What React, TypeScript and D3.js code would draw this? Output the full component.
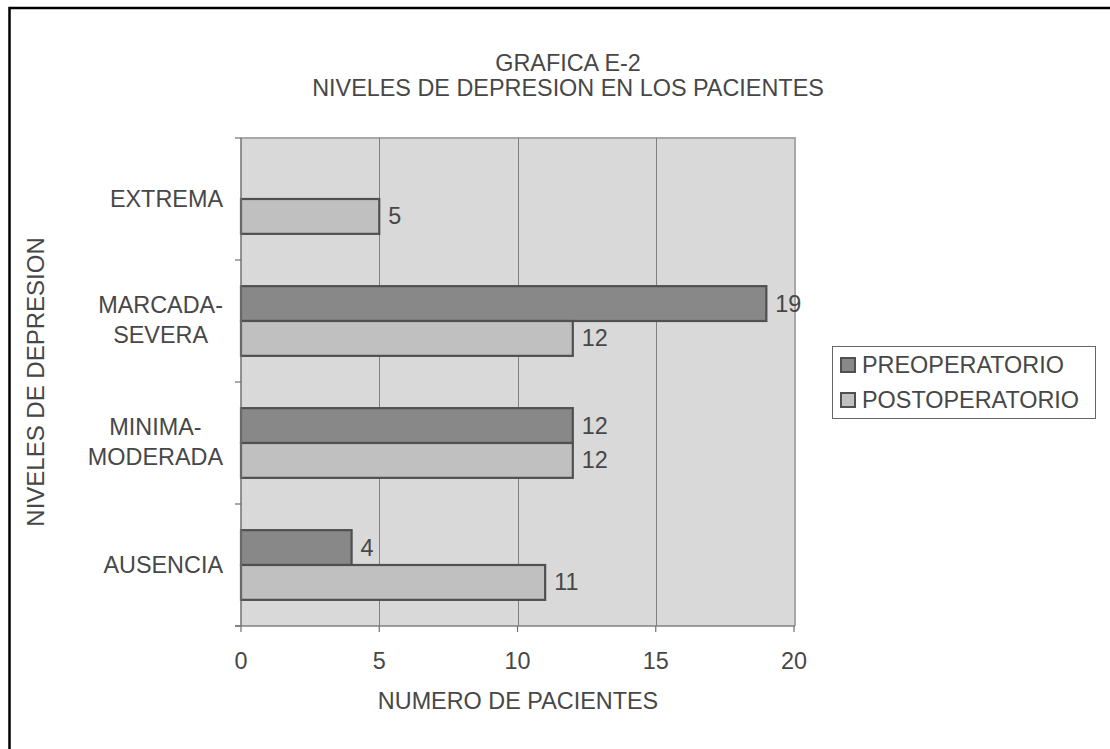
import React, { useEffect, useRef } from "react";
import * as d3 from "d3";

// Depression levels, listed top to bottom
const categories: string[][] = [
  ["EXTREMA"],
  ["MARCADA-", "SEVERA"],
  ["MINIMA-", "MODERADA"],
  ["AUSENCIA"],
];
const categoryKeys = ["EXTREMA", "MARCADA-SEVERA", "MINIMA-MODERADA", "AUSENCIA"];

const seriesNames = ["PREOPERATORIO", "POSTOPERATORIO"];
const preoperatorio: (number | null)[] = [null, 19, 12, 4];
const postoperatorio: (number | null)[] = [5, 12, 12, 11];
const xTicks = [0, 5, 10, 15, 20];

const W = 1110;
const H = 749;
const FONT = "'Liberation Sans', Arial, sans-serif";
const TEXT = "#474747";
const FS = 23.4;

export default function App() {
  const ref = useRef<SVGSVGElement | null>(null);

  useEffect(() => {
    const svg = d3.select(ref.current);
    svg.selectAll("*").remove();

    const plot = { left: 241, right: 795, top: 138, bottom: 626 };

    const x = d3.scaleLinear().domain([0, 20]).range([plot.left, plot.right - 1]);
    const y = d3.scaleBand<string>().domain(categoryKeys).range([plot.top, plot.bottom]).padding(0);
    const bw = y.bandwidth();
    const barH = bw / 3.5;
    const sub = d3
      .scaleBand<string>()
      .domain(seriesNames)
      .range([barH * 0.75, bw - barH * 0.75])
      .padding(0);

    // Outer frame (top and left edges show)
    svg
      .append("path")
      .attr("d", `M9.5,${H} V8 H${W}`)
      .attr("fill", "none")
      .attr("stroke", "#000")
      .attr("stroke-width", 2.5);

    // Title
    const title = svg
      .append("text")
      .attr("font-family", FONT)
      .attr("font-size", FS)
      .attr("fill", TEXT)
      .attr("text-anchor", "middle");
    title.append("tspan").attr("x", 568).attr("y", 71).text("GRAFICA E-2");
    title.append("tspan").attr("x", 568).attr("y", 96).text("NIVELES DE DEPRESION EN LOS PACIENTES");

    // Plot background
    svg
      .append("rect")
      .attr("x", plot.left)
      .attr("y", plot.top)
      .attr("width", plot.right - plot.left)
      .attr("height", plot.bottom - plot.top)
      .attr("fill", "#d9d9d9");

    // Top and right borders of the plot area
    svg
      .append("path")
      .attr("d", `M${plot.left},${plot.top} H${plot.right} V${plot.bottom}`)
      .attr("fill", "none")
      .attr("stroke", "#a8a8a8")
      .attr("stroke-width", 2);

    // Vertical gridlines
    svg
      .append("g")
      .selectAll("line")
      .data(xTicks.filter((t) => t > 0 && t < 20))
      .join("line")
      .attr("x1", (d) => Math.round(x(d)) + 0.5)
      .attr("x2", (d) => Math.round(x(d)) + 0.5)
      .attr("y1", plot.top)
      .attr("y2", plot.bottom)
      .attr("stroke", "#808080")
      .attr("stroke-width", 1);

    // Bars with value labels
    const series = [
      { name: seriesNames[0], values: preoperatorio, fill: "#888888" },
      { name: seriesNames[1], values: postoperatorio, fill: "#c0c0c0" },
    ];
    series.forEach((s) => {
      const g = svg.append("g");
      const rows = categoryKeys
        .map((c, i) => ({ c, v: s.values[i] }))
        .filter((d) => d.v !== null) as { c: string; v: number }[];
      g.selectAll("rect")
        .data(rows)
        .join("rect")
        .attr("x", x(0))
        .attr("y", (d) => (y(d.c) as number) + (sub(s.name) as number))
        .attr("width", (d) => x(d.v) - x(0))
        .attr("height", sub.bandwidth())
        .attr("fill", s.fill)
        .attr("stroke", "#505050")
        .attr("stroke-width", 2.2);
      g.selectAll("text")
        .data(rows)
        .join("text")
        .attr("x", (d) => x(d.v) + 9)
        .attr("y", (d) => (y(d.c) as number) + (sub(s.name) as number) + sub.bandwidth() / 2 + 8)
        .attr("font-family", FONT)
        .attr("font-size", FS)
        .attr("fill", TEXT)
        .text((d) => String(d.v));
    });

    // Axis lines
    svg
      .append("line")
      .attr("x1", plot.left)
      .attr("x2", plot.left)
      .attr("y1", plot.top)
      .attr("y2", plot.bottom)
      .attr("stroke", "#707070")
      .attr("stroke-width", 1.5);
    svg
      .append("line")
      .attr("x1", plot.left - 6)
      .attr("x2", plot.right)
      .attr("y1", plot.bottom)
      .attr("y2", plot.bottom)
      .attr("stroke", "#808080")
      .attr("stroke-width", 1.5);

    // Y tick marks at category boundaries
    const boundaries = categoryKeys.map((c) => y(c) as number).concat([plot.bottom]);
    svg
      .append("g")
      .selectAll("line")
      .data(boundaries)
      .join("line")
      .attr("x1", plot.left - 6)
      .attr("x2", plot.left)
      .attr("y1", (d) => d)
      .attr("y2", (d) => d)
      .attr("stroke", "#707070")
      .attr("stroke-width", 1.2);

    // X tick marks and labels
    const xg = svg.append("g");
    xg.selectAll("line")
      .data(xTicks)
      .join("line")
      .attr("x1", (d) => x(d))
      .attr("x2", (d) => x(d))
      .attr("y1", plot.bottom)
      .attr("y2", plot.bottom + 6)
      .attr("stroke", "#707070")
      .attr("stroke-width", 1.2);
    xg.selectAll("text")
      .data(xTicks)
      .join("text")
      .attr("x", (d) => x(d))
      .attr("y", 669)
      .attr("text-anchor", "middle")
      .attr("font-family", FONT)
      .attr("font-size", FS)
      .attr("fill", TEXT)
      .text((d) => String(d));

    // Category labels: block right-aligned, lines centred within it
    const labelRight = 223;
    const lh = 30;
    categories.forEach((lines, i) => {
      const cy = (y(categoryKeys[i]) as number) + bw / 2;
      const t = svg
        .append("text")
        .attr("font-family", FONT)
        .attr("font-size", FS)
        .attr("fill", TEXT)
        .attr("text-anchor", "middle");
      const spans = lines.map((ln, k) =>
        t
          .append("tspan")
          .attr("y", cy + 8 + (k - (lines.length - 1) / 2) * lh - (lines.length > 1 ? 1 : 0))
          .text(ln)
      );
      const widths = spans.map((sp) => (sp.node() as SVGTSpanElement).getComputedTextLength());
      const maxW = Math.max(...widths);
      spans.forEach((sp) => sp.attr("x", labelRight - maxW / 2));
    });

    // Axis titles
    svg
      .append("text")
      .attr("x", (plot.left + plot.right) / 2)
      .attr("y", 709)
      .attr("text-anchor", "middle")
      .attr("font-family", FONT)
      .attr("font-size", FS)
      .attr("fill", TEXT)
      .text("NUMERO DE PACIENTES");
    svg
      .append("text")
      .attr("transform", `translate(44,${(plot.top + plot.bottom) / 2}) rotate(-90)`)
      .attr("text-anchor", "middle")
      .attr("font-family", FONT)
      .attr("font-size", 24)
      .attr("fill", TEXT)
      .text("NIVELES DE DEPRESION");

    // Legend
    const lg = svg.append("g");
    lg.append("rect")
      .attr("x", 832.5)
      .attr("y", 346.5)
      .attr("width", 263)
      .attr("height", 72)
      .attr("fill", "#fff")
      .attr("stroke", "#666")
      .attr("stroke-width", 1);
    series.forEach((s, i) => {
      const yy = 373 + i * 35;
      lg.append("rect")
        .attr("x", 841)
        .attr("y", yy - 15)
        .attr("width", 14)
        .attr("height", 14)
        .attr("fill", s.fill)
        .attr("stroke", "#505050")
        .attr("stroke-width", 2);
      lg.append("text")
        .attr("x", 862)
        .attr("y", yy)
        .attr("font-family", FONT)
        .attr("font-size", FS)
        .attr("fill", TEXT)
        .text(s.name);
    });
  }, []);

  return (
    <svg
      ref={ref}
      width={W}
      height={H}
      style={{ position: "absolute", left: 0, top: 0, background: "#fff" }}
    />
  );
}
